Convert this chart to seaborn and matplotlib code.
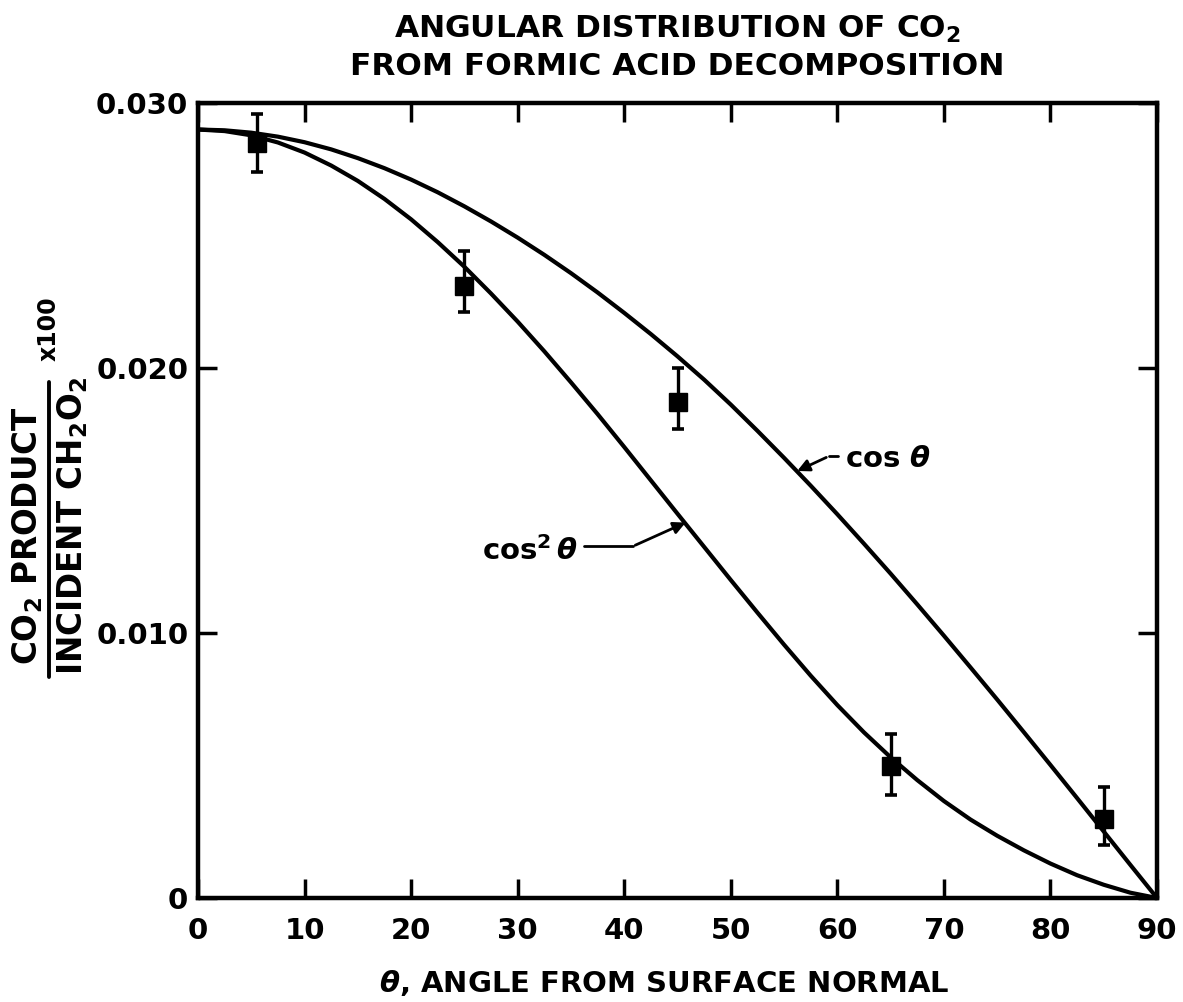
import numpy as np
import pandas as pd
import matplotlib
matplotlib.use("Agg")
import matplotlib.pyplot as plt
import seaborn as sns

# ---- data ----
theta_curve = [0, 2.5, 5, 7.5, 10, 12.5, 15, 17.5, 20, 22.5, 25, 27.5, 30, 32.5, 35, 37.5,
               40, 42.5, 45, 47.5, 50, 52.5, 55, 57.5, 60, 62.5, 65, 67.5, 70, 72.5, 75,
               77.5, 80, 82.5, 85, 87.5, 90]
cos_curve = [0.02900, 0.02897, 0.02888, 0.02873, 0.02852, 0.02825, 0.02792, 0.02754, 0.02711,
             0.02663, 0.02610, 0.02553, 0.02492, 0.02427, 0.02358, 0.02285, 0.02208, 0.02128,
             0.02044, 0.01956, 0.01862, 0.01763, 0.01661, 0.01556, 0.01448, 0.01337, 0.01224,
             0.01108, 0.00990, 0.00870, 0.00749, 0.00626, 0.00502, 0.00377, 0.00251, 0.00125, 0.0]
cos2_curve = [0.02900, 0.02894, 0.02878, 0.02851, 0.02813, 0.02764, 0.02706, 0.02638, 0.02561,
              0.02475, 0.02382, 0.02281, 0.02175, 0.02063, 0.01946, 0.01826, 0.01702, 0.01576,
              0.01450, 0.01325, 0.01200, 0.01077, 0.00956, 0.00839, 0.00728, 0.00625, 0.00531,
              0.00445, 0.00366, 0.00296, 0.00235, 0.00180, 0.00130, 0.00086, 0.00050, 0.00020, 0.0]

theta_pts = [5.5, 25, 45, 65, 85]
y_pts = [0.0285, 0.0231, 0.0187, 0.0050, 0.0030]
err_low = [0.0011, 0.0010, 0.0010, 0.0011, 0.0010]
err_high = [0.0011, 0.0013, 0.0013, 0.0012, 0.0012]

x_ticks = [0, 10, 20, 30, 40, 50, 60, 70, 80, 90]
y_ticks = [0, 0.010, 0.020, 0.030]
y_tick_labels = ["0", "0.010", "0.020", "0.030"]

title = "ANGULAR DISTRIBUTION OF CO$_\\mathbf{2}$\nFROM FORMIC ACID DECOMPOSITION"
xlabel = r"$\boldsymbol{\theta}$, ANGLE FROM SURFACE NORMAL"

sns.set_theme(style="white")
plt.rcParams["font.family"] = ["DejaVu Sans"]
plt.rcParams["font.weight"] = "bold"
plt.rcParams["mathtext.fontset"] = "dejavusans"
plt.rcParams["mathtext.default"] = "bf"
for k in ["text.color", "axes.labelcolor", "xtick.color", "ytick.color", "axes.edgecolor"]:
    plt.rcParams[k] = "black"

fig = plt.figure(figsize=(11.83, 10.02), dpi=100)
ax = fig.add_axes([198 / 1183, 1 - 898 / 1002, (1157 - 198) / 1183, (898 - 103) / 1002])

df = pd.DataFrame({"theta": theta_curve, "cos": cos_curve, "cos2": cos2_curve})
sns.lineplot(data=df, x="theta", y="cos", ax=ax, color="black", lw=3.0, sort=False)
sns.lineplot(data=df, x="theta", y="cos2", ax=ax, color="black", lw=3.0, sort=False)

ax.errorbar(theta_pts, y_pts, yerr=[err_low, err_high], fmt="s", color="black",
            ms=13, elinewidth=2.4, capsize=4.5, capthick=2.6, zorder=5)

ax.set_xlim(0, 90)
ax.set_ylim(0, 0.030)
ax.set_xticks(x_ticks)
ax.set_xticklabels([str(v) for v in x_ticks])
ax.set_yticks(y_ticks)
ax.set_yticklabels(y_tick_labels)
ax.tick_params(direction="in", length=14, width=2.5, labelsize=21, color="black",
               top=True, right=True, bottom=True, left=True)
ax.tick_params(axis="x", pad=14)
ax.tick_params(axis="y", pad=7)
for s in ax.spines.values():
    s.set_linewidth(3.2)
    s.set_color("black")
    s.set_visible(True)
ax.set_xlabel(xlabel, fontsize=21, labelpad=6, fontweight="bold")
ax.xaxis.set_label_coords(0.486, -0.088)
ax.set_ylabel("")
ax.set_title(title, fontsize=22.5, pad=20, linespacing=1.3, fontweight="bold")

# y-axis label as a fraction
fig.text(28 / 1183, 1 - 536 / 1002, "CO$_\\mathbf{2}$ PRODUCT", rotation=90, fontsize=23.5,
         ha="center", va="center", fontweight="bold")
fig.add_artist(plt.Line2D([49 / 1183, 49 / 1183], [1 - 382 / 1002, 1 - 677 / 1002],
                          color="black", lw=2.8, transform=fig.transFigure))
fig.text(73 / 1183, 1 - 526 / 1002, "INCIDENT CH$_\\mathbf{2}$O$_\\mathbf{2}$", rotation=90,
         fontsize=23.5, ha="center", va="center", fontweight="bold")
fig.text(49 / 1183, 1 - 329 / 1002, "x100", rotation=90, fontsize=17,
         ha="center", va="center", fontweight="bold")

# annotations
ax.text(60.7, 0.01656, r"cos $\boldsymbol{\theta}$", fontsize=21, ha="left", va="center",
        fontweight="bold")
ax.plot([60.1, 59.2], [0.01667, 0.01667], color="black", lw=2)
ax.annotate("", xy=(56.0, 0.01607), xytext=(59.2, 0.01667),
            arrowprops=dict(arrowstyle="-|>", color="black", lw=2, mutation_scale=18))

ax.text(35.7, 0.01308, r"cos$^\mathbf{2}\,\boldsymbol{\theta}$", fontsize=21, ha="right",
        va="center", fontweight="bold")
ax.plot([36.2, 40.8], [0.01327, 0.01327], color="black", lw=2)
ax.annotate("", xy=(46.0, 0.01421), xytext=(40.8, 0.01327),
            arrowprops=dict(arrowstyle="-|>", color="black", lw=2, mutation_scale=18))

fig.savefig("out.png", dpi=100, facecolor="white")
